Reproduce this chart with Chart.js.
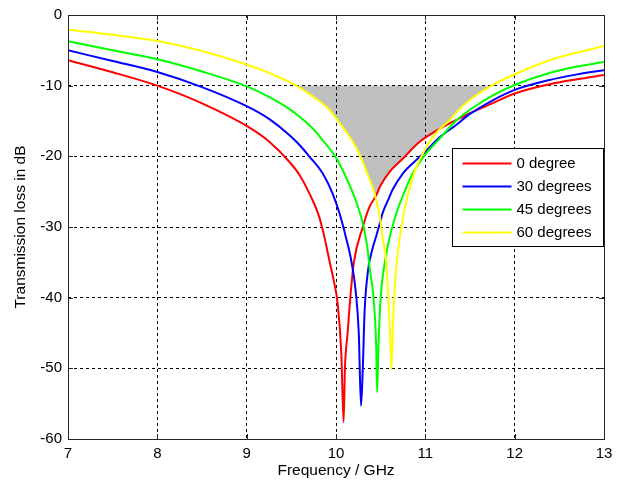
<!DOCTYPE html>
<html><head><meta charset="utf-8"><title>Transmission loss</title>
<script src="https://cdn.jsdelivr.net/npm/chart.js@4.4.0/dist/chart.umd.min.js"></script>
<style>html,body{margin:0;padding:0;background:#fff}canvas{display:block}</style>
</head><body>
<canvas id="chart" width="623" height="486"></canvas>
<script>
const seriesNames = ["0 degree","30 degrees","45 degrees","60 degrees"];
const seriesColors = ["#ff0000","#0000ff","#00ff00","#ffff00"];

// values (GHz / dB)
const freq0 = [7,7.5,8,8.5,9,9.25,9.48,9.59,9.7,9.81,9.87,9.925,9.97,10.02,10.06,10.085,10.1,10.13,10.16,10.2,10.3,10.37,10.45,10.5,10.6,10.75,10.93,11.12,11.31,11.5,11.75,12,12.39,12.7,13];
const loss0 = [-6.4,-8.1,-10,-12.5,-15.7,-17.9,-20.8,-22.6,-25.2,-28.5,-31.4,-34.7,-37.3,-41,-48,-57.6,-50,-45,-40,-35,-30,-27.3,-25.5,-24.1,-22.2,-20.3,-18,-16.4,-15.1,-13.9,-12.5,-11.1,-9.8,-9.1,-8.5];

const freq30 = [7,7.5,8,8.5,9,9.25,9.48,9.6,9.7,9.85,9.96,10.04,10.11,10.17,10.22,10.255,10.28,10.3,10.32,10.36,10.41,10.45,10.49,10.52,10.6,10.63,10.75,10.9,11.01,11.16,11.34,11.5,11.75,12,12.39,12.7,13];
const loss30 = [-5,-6.5,-8.06,-10.2,-12.9,-14.7,-17,-18.5,-20,-22.4,-25.2,-28.1,-31.4,-34.7,-39,-45,-55.3,-50,-42,-36,-33,-31.3,-29.5,-28.1,-25.7,-24.8,-22.4,-20.5,-19.2,-17.3,-15.6,-14,-12.1,-10.6,-9.2,-8.4,-7.8];

const freq45 = [7,7.5,8,8.5,9,9.25,9.5,9.63,9.75,9.85,10,10.11,10.22,10.3,10.35,10.38,10.42,10.45,10.46,10.475,10.5,10.54,10.6,10.67,10.76,10.86,11.01,11.16,11.34,11.5,11.75,12,12.39,12.7,13];
const loss45 = [-3.72,-5,-6.27,-8,-10.1,-11.6,-13.5,-14.8,-16.2,-17.7,-20.2,-22.9,-26.2,-29.5,-32.8,-36.1,-40,-47,-53.4,-47,-40,-35.5,-31.5,-28.3,-25.2,-22.4,-19.6,-17.5,-15,-13.4,-11.4,-9.9,-8.2,-7.3,-6.65];

const freq60 = [7,7.25,7.5,8,8.5,9,9.25,9.5,9.75,9.9,10.02,10.15,10.26,10.35,10.43,10.49,10.52,10.56,10.585,10.605,10.62,10.635,10.65,10.68,10.72,10.76,10.79,10.84,10.9,11.01,11.12,11.27,11.36,11.5,11.74,12,12.39,12.7,13];
const loss60 = [-2.07,-2.4,-2.8,-3.67,-5.1,-7,-8.2,-9.6,-11.6,-13.1,-14.9,-17.2,-19.6,-22.4,-25.2,-28.5,-31.4,-34.7,-40,-45,-50.2,-45,-40,-35,-31,-28,-26.2,-23.8,-21.5,-18.7,-16.7,-14.9,-13.6,-12,-10,-8.4,-6.4,-5.3,-4.4];

// grey band below -10 dB
const shadeFreq = [9.57,9.75,9.9,10.02,10.15,10.26,10.35,10.45,10.5,10.6,10.75,10.93,11.05,11.15,11.27,11.36,11.5,11.74];
const shadeLoss = [-10,-11.6,-13.1,-14.9,-17.2,-19.6,-22.4,-25.6,-24.3,-22.2,-20.3,-18,-17.1,-16.3,-14.9,-13.6,-12,-10];
const shadeTop = -10;

const xTickValues = [7,8,9,10,11,12,13];
const yTickValues = [-60,-50,-40,-30,-20,-10,0];

const FONT = "'Liberation Sans', Arial, sans-serif";
const $ = (id) => document.getElementById(id);
const pts = (xs, ys) => xs.map((x,i)=>({x, y:ys[i]}));

function curve(i, xs, ys){
  return {
    label: seriesNames[i], data: pts(xs, ys),
    borderColor: seriesColors[i], backgroundColor: seriesColors[i],
    borderWidth: 2, pointRadius: 0, cubicInterpolationMode: "monotone", fill: false,
    order: 4 - i
  };
}

const framePlugin = {
  id: "frame",
  afterDraw(chart){
    const ctx = chart.ctx, ca = chart.chartArea;
    const sx = chart.scales.x, sy = chart.scales.y;
    ctx.save();
    ctx.strokeStyle = "#262626"; ctx.lineWidth = 1;
    ctx.beginPath();
    xTickValues.forEach(v=>{
      const p = Math.round(sx.getPixelForValue(v)) + 0.5;
      ctx.moveTo(p, ca.bottom); ctx.lineTo(p, ca.bottom - 5);
      ctx.moveTo(p, ca.top); ctx.lineTo(p, ca.top + 5);
    });
    yTickValues.forEach(v=>{
      const p = Math.round(sy.getPixelForValue(v)) + 0.5;
      ctx.moveTo(ca.left, p); ctx.lineTo(ca.left + 5, p);
      ctx.moveTo(ca.right, p); ctx.lineTo(ca.right - 5, p);
    });
    ctx.stroke();
    ctx.strokeRect(Math.round(ca.left)+0.5, Math.round(ca.top)+0.5, Math.round(ca.right-ca.left), Math.round(ca.bottom-ca.top));

    // legend box
    const bx = Math.round(ca.right) - 152 + 0.5, by = Math.round(ca.top) + 133 + 0.5, bw = 151, bh = 98;
    ctx.fillStyle = "#fff"; ctx.fillRect(bx, by, bw, bh);
    ctx.strokeStyle = "#000"; ctx.strokeRect(bx, by, bw, bh);
    ctx.font = "15px " + FONT; ctx.textBaseline = "middle"; ctx.textAlign = "left";
    seriesNames.forEach((name,i)=>{
      const y = by + 15 + i*23;
      ctx.strokeStyle = seriesColors[i]; ctx.lineWidth = 2;
      ctx.beginPath(); ctx.moveTo(bx+10, y); ctx.lineTo(bx+59, y); ctx.stroke();
      ctx.fillStyle = "#000"; ctx.fillText(name, bx+64, y);
    });
    ctx.restore();
  }
};

new Chart($("chart"), {
  type: "line",
  data: {
    datasets: [
      curve(0, freq0, loss0),
      curve(1, freq30, loss30),
      curve(2, freq45, loss45),
      curve(3, freq60, loss60),
      {
        label: "band", data: pts(shadeFreq, shadeLoss),
        borderColor: "rgba(0,0,0,0)", borderWidth: 0, backgroundColor: "#bfbfbf",
        pointRadius: 0, cubicInterpolationMode: "monotone", fill: {value: shadeTop}, order: 10
      }
    ]
  },
  options: {
    responsive: false, animation: false,
    layout: { padding: { left: 0, right: 19, top: 14, bottom: 0 } },
    plugins: {
      legend: { display: false }, tooltip: { enabled: false },
      filler: { drawTime: "beforeDraw" }
    },
    scales: {
      x: {
        type: "linear", min: 7, max: 13,
        afterBuildTicks: (s)=>{ s.ticks = xTickValues.map(v=>({value:v})); },
        afterFit: (s)=>{ s.height = 47; },
        grid: { color: "#000", lineWidth: 1, drawTicks: false },
        border: { display: false, dash: [3,3] },
        ticks: { color: "#000", padding: 6, font: { family: FONT, size: 15 } },
        title: { display: true, text: "Frequency / GHz", color: "#000", padding: { top: 0, bottom: 6 }, font: { family: FONT, size: 15.5 } }
      },
      y: {
        type: "linear", min: -60, max: 0,
        afterBuildTicks: (s)=>{ s.ticks = yTickValues.map(v=>({value:v})); },
        afterFit: (s)=>{ s.width = 68; },
        grid: { color: "#000", lineWidth: 1, drawTicks: false },
        border: { display: false, dash: [3,3] },
        ticks: { color: "#000", padding: 6, font: { family: FONT, size: 15 } },
        title: { display: true, text: "Transmission loss in dB", color: "#000", padding: { top: 11, bottom: 0 }, font: { family: FONT, size: 15.5 } }
      }
    }
  },
  plugins: [framePlugin]
});
</script>
</body></html>
